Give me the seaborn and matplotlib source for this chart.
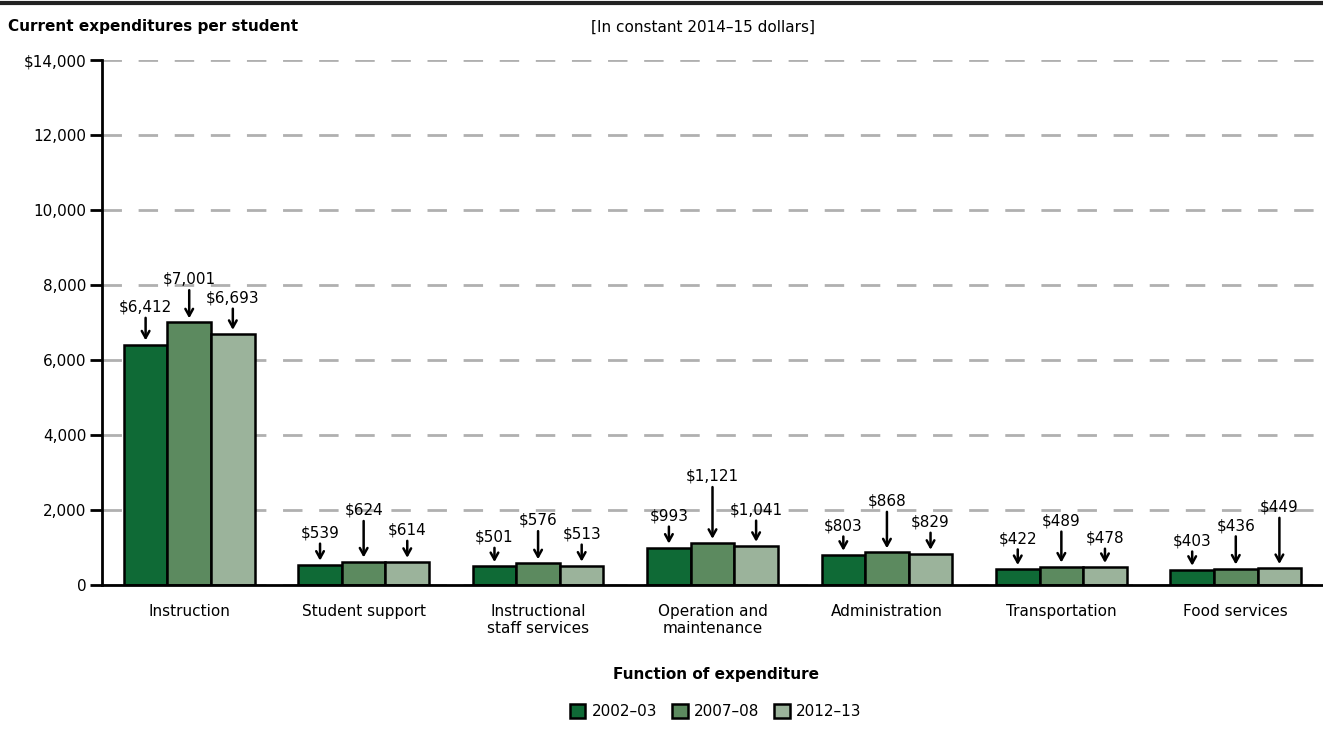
"""
Current expenditures per student by function, grouped bars with arrow labels.
"""

import pandas as pd
import matplotlib.pyplot as plt
import seaborn as sns
from matplotlib.lines import Line2D
from matplotlib.ticker import FuncFormatter

# data
functions = ["Instruction", "Student support", "Instructional\nstaff services",
             "Operation and\nmaintenance", "Administration", "Transportation",
             "Food services"]
years = ["2002\u201303", "2007\u201308", "2012\u201313"]
spend_2002 = [6412, 539, 501, 993, 803, 422, 403]
spend_2007 = [7001, 624, 576, 1121, 868, 489, 436]
spend_2012 = [6693, 614, 513, 1041, 829, 478, 449]

colors = ["#0f6a36", "#5c8a5f", "#9bb39b"]
# how far (points) each value label sits above its bar, per year
label_lift = [
    [27, 23, 21, 23, 21, 22, 21],
    [31, 37, 31, 48, 37, 33, 31],
    [26, 23, 23, 26, 23, 21, 44],
]

sns.set_theme(style="white", rc={"text.color": "black",
                                 "axes.labelcolor": "black",
                                 "xtick.color": "black",
                                 "ytick.color": "black"})
plt.rcParams["font.family"] = ["DejaVu Sans"]

FS = 11


def build_frame():
    rows = []
    for year, vals in zip(years, [spend_2002, spend_2007, spend_2012]):
        for f, v in zip(functions, vals):
            rows.append({"function": f, "year": year, "value": v})
    return pd.DataFrame(rows)


def plot_chart(df):
    fig = plt.figure(figsize=(13.23, 7.3), dpi=100)
    ax = fig.add_axes([0.0771, 0.1986, 0.9229, 0.7192])

    sns.barplot(data=df, x="function", y="value", hue="year", palette=colors,
                width=0.75, edgecolor="black", linewidth=1.8, saturation=1,
                ax=ax)

    ax.set_xlim(-0.5, 6.5)
    ax.set_ylim(0, 14000)
    ax.set_yticks(range(0, 14001, 2000))
    ax.yaxis.set_major_formatter(FuncFormatter(
        lambda v, p: f"${v:,.0f}" if v == 14000 else f"{v:,.0f}"))
    ax.set_xlabel("")
    ax.set_ylabel("")

    ax.yaxis.grid(True, color="#b0b0b0", linewidth=2, linestyle=(0, (7, 6)))
    ax.set_axisbelow(True)
    for side in ["top", "right"]:
        ax.spines[side].set_visible(False)
    ax.spines["left"].set_linewidth(2)
    ax.spines["bottom"].set_linewidth(2)
    ax.spines["left"].set_color("black")
    ax.spines["bottom"].set_color("black")
    ax.tick_params(axis="y", left=True, length=9, width=2, color="black",
                   labelcolor="black", labelsize=FS, pad=2)
    ax.tick_params(axis="x", bottom=False, labelcolor="black", labelsize=FS,
                   pad=8)
    for lab in ax.get_xticklabels():
        lab.set_linespacing(1.15)

    # value labels with arrows
    for i, cont in enumerate(ax.containers):
        for j, bar in enumerate(cont):
            v = bar.get_height()
            xc = bar.get_x() + bar.get_width() / 2
            ax.annotate(f"${v:,.0f}", xy=(xc, v), xytext=(0, label_lift[i][j]),
                        textcoords="offset points", ha="center", va="center",
                        fontsize=FS, color="black",
                        arrowprops=dict(arrowstyle="->,head_length=0.45,head_width=0.25",
                                        color="black", lw=1.8, shrinkA=0,
                                        shrinkB=3, relpos=(0.5, 0)))

    ax.legend_.remove()
    handles = [plt.Rectangle((0, 0), 1, 1, facecolor=c, edgecolor="black",
                             linewidth=1.8) for c in colors]
    fig.legend(handles, years, loc="center", bbox_to_anchor=(0.541, 0.025),
               ncol=3, frameon=False, fontsize=FS, handlelength=1.0,
               handleheight=1.0, handletextpad=0.4, columnspacing=1.0,
               labelcolor="black")

    fig.text(8 / 1323, 1 - 27 / 730, "Current expenditures per student",
             fontsize=FS, fontweight="bold", va="center", ha="left",
             color="black")
    fig.text(703 / 1323, 1 - 27 / 730, "[In constant 2014\u201315 dollars]",
             fontsize=FS, va="center", ha="center", color="black")
    fig.text(716 / 1323, 1 - 675 / 730, "Function of expenditure",
             fontsize=FS, fontweight="bold", va="center", ha="center",
             color="black")
    fig.add_artist(Line2D([0, 1], [1 - 3 / 730, 1 - 3 / 730], color="#222222",
                          linewidth=3, transform=fig.transFigure))

    fig.savefig("out.png", dpi=100)
    plt.close(fig)


def main():
    df = build_frame()
    plot_chart(df)


if __name__ == "__main__":
    main()
